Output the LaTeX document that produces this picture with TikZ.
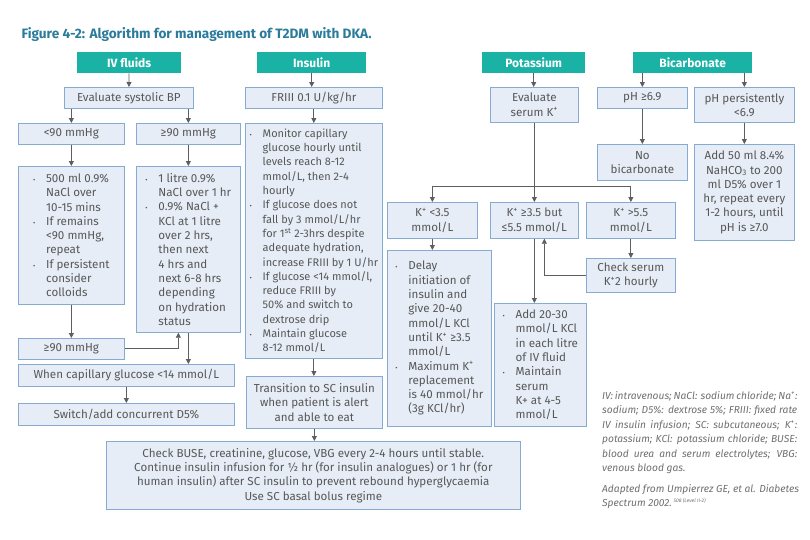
\documentclass[tikz,border=0pt]{standalone}
\usepackage{fontspec}
\setmainfont{Fira Sans}
\usetikzlibrary{arrows.meta}
\definecolor{teal1}{HTML}{1BB2A6}
\definecolor{bxfill}{HTML}{E7EDF6}
\definecolor{bxline}{HTML}{86ABD3}
\definecolor{txt}{HTML}{575757}
\definecolor{arrc}{HTML}{5E5E5E}
\definecolor{ttl}{HTML}{2B7C9C}
\newcommand{\itm}{\makebox[13pt][l]{\scriptsize\textbullet}}
\newcommand{\hng}{\hspace*{13pt}}
\newcommand{\Kp}{K\textsuperscript{+}}
\newcommand{\jl}[1]{\makebox[195pt][s]{#1}}
\begin{document}
\begin{tikzpicture}[x=1pt,y=-1pt,
    hd/.style={fill=teal1, text=white, font=\fontsize{12}{14}\selectfont\bfseries, anchor=north west, inner sep=0pt},
    bx/.style={draw=bxline, fill=bxfill, line width=0.7pt, text=txt, anchor=north west, inner sep=0pt,
        font=\fontsize{11.6}{14.3}\selectfont, align=center},
    bl/.style={bx, align=left},
    arr/.style={draw=arrc, line width=0.8pt, -{Triangle[length=5pt,width=5pt]}}]
    \useasboundingbox[fill=white] (0,0) rectangle (810,539);

    % Title
    \node[anchor=west, text=ttl, font=\fontsize{13.6}{16}\selectfont\bfseries] (title) at (18,34)
        {Figure 4-2: Algorithm for management of T2DM with DKA.};

    % Headers
    \node[hd, minimum width=104, minimum height=21] (ivf) at (77,52) {IV fluids};
    \node[hd, minimum width=109, minimum height=21] (ins) at (257,52) {Insulin};
    \node[hd, minimum width=103, minimum height=21] (pot) at (482,52) {Potassium};
    \node[hd, minimum width=119, minimum height=21] (bic) at (633,52) {Bicarbonate};

    % IV fluids
    \node[bx, minimum width=129, minimum height=21] (evbp) at (64,87) {Evaluate systolic BP};
    \node[bx, minimum width=106, minimum height=21] (lt90) at (18,123) {<90 mmHg};
    \node[bx, minimum width=104, minimum height=21] (ge90) at (136,123) {≥90 mmHg};
    \node[bl, minimum width=106, minimum height=138] (ivA) at (18,166)
        {\itm 500 ml 0.9\%\\ \hng NaCl over\\ \hng 10-15 mins\\
         \itm If remains\\ \hng <90 mmHg,\\ \hng repeat\\
         \itm If persistent\\ \hng consider\\ \hng colloids};
    \node[bl, minimum width=104, minimum height=166] (ivB) at (136,166)
        {\itm 1 litre 0.9\%\\ \hng NaCl over 1 hr\\
         \itm 0.9\% NaCl +\\ \hng KCl at 1 litre\\ \hng over 2 hrs,\\ \hng then next\\
         \hng 4 hrs and\\ \hng next 6-8 hrs\\ \hng depending\\ \hng on hydration\\ \hng status};
    \node[bx, minimum width=106, minimum height=21] (ge90b) at (18,338) {≥90 mmHg};
    \node[bx, minimum width=216, minimum height=22] (cbg) at (18,364) {When capillary glucose <14 mmol/L};
    \node[bx, minimum width=216, minimum height=22] (dfive) at (18,403) {Switch/add concurrent D5\%};

    \draw[arr] (ivf) -- (evbp);
    \draw[arr] (evbp.south -| lt90) -- (lt90);
    \draw[arr] (evbp.south -| ge90) -- (ge90);
    \draw[arr] (lt90) -- (ivA);
    \draw[arr] (ge90) -- (ivB);
    \draw[arr] (ivA) -- (ge90b);
    \draw[arr] (ge90b.east) -| ([xshift=-10pt]ivB.south);
    \draw[arr] (ivB.south) -- (ivB.south |- cbg.north);
    \draw[arr] (cbg) -- (dfive);

    % Insulin
    \node[bx, minimum width=137, minimum height=21] (fr) at (245,87) {FRIII 0.1 U/kg/hr};
    \node[bl, minimum width=137, minimum height=235, font=\fontsize{11}{14.3}\selectfont] (insB) at (245,123)
        {\itm Monitor capillary\\ \hng glucose hourly until\\ \hng levels reach 8-12\\
         \hng mmol/L, then 2-4\\ \hng hourly\\
         \itm If glucose does not\\ \hng fall by 3 mmol/L/hr\\ \hng for 1\textsuperscript{st} 2-3hrs despite\\
         \hng adequate hydration,\\ \hng increase FRIII by 1 U/hr\\
         \itm If glucose <14 mmol/l,\\ \hng reduce FRIII by\\ \hng 50\% and switch to\\ \hng dextrose drip\\
         \itm Maintain glucose\\ \hng 8-12 mmol/L};
    \node[bx, minimum width=136, minimum height=52] (trn) at (246,376)
        {Transition to SC insulin\\ when patient is alert\\ and able to eat};
    \node[bx, minimum width=414, minimum height=68] (final) at (106,441)
        {Check BUSE, creatinine, glucose, VBG every 2-4 hours until stable.\\
         Continue insulin infusion for ½ hr (for insulin analogues) or 1 hr (for\\
         human insulin) after SC insulin to prevent rebound hyperglycaemia\\
         Use SC basal bolus regime};

    \draw[arr] (ins) -- (ins |- fr.north);
    \draw[arr] (fr) -- (fr |- insB.north);
    \draw[arr] (insB) -- (insB |- trn.north);
    \draw[arr] (trn) -- (trn |- final.north);

    % Potassium
    \node[bx, minimum width=88, minimum height=35] (evk) at (490,87) {Evaluate\\ serum \Kp};
    \node[bx, minimum width=90, minimum height=36] (klo) at (387,202) {\Kp{} <3.5\\ mmol/L};
    \node[bx, minimum width=88, minimum height=36] (kmid) at (490,202) {\Kp{} ≥3.5 but\\ ≤5.5 mmol/L};
    \node[bx, minimum width=89, minimum height=36] (khi) at (586,202) {\Kp{} >5.5\\ mmol/L};
    \node[bx, minimum width=89, minimum height=34] (chk) at (586,258) {Check serum\\ \Kp{}2 hourly};
    \node[bl, minimum width=104, minimum height=176] (kdel) at (387,250)
        {\itm Delay\\ \hng initiation of\\ \hng insulin and\\ \hng give 20-40\\
         \hng mmol/L KCl\\ \hng until \Kp{} ≥3.5\\ \hng mmol/L\\
         \itm Maximum \Kp\\ \hng replacement\\ \hng is 40 mmol/hr\\ \hng (3g KCl/hr)};
    \node[bl, minimum width=92, minimum height=123] (kadd) at (494,303)
        {\itm Add 20-30\\ \hng mmol/L KCl\\ \hng in each litre\\ \hng of IV fluid\\
         \itm Maintain\\ \hng serum\\ \hng K+ at 4-5\\ \hng mmol/L};
    \coordinate (kbr) at (534,186);

    \draw[arr] (pot) -- (pot |- evk.north);
    \draw[arr] (evk) -- (evk |- kmid.north);
    \draw[arr] (kbr) -| (klo);
    \draw[arr] (kbr) -| (khi);
    \draw[arr] (khi) -- (chk);
    \draw[arr] (chk.west) -| ([xshift=10pt]kmid.south);
    \draw[arr] (klo) -- (klo |- kdel.north);
    \draw[arr] (kmid.south) -- (kmid.south |- kadd.north);

    % Bicarbonate
    \node[bx, minimum width=90, minimum height=21] (phok) at (597,87) {pH ≥6.9};
    \node[bx, minimum width=100, minimum height=35] (phlo) at (694,87) {pH persistently\\ <6.9};
    \node[bx, minimum width=90, minimum height=36] (nobic) at (597,144) {No\\ bicarbonate};
    \node[bx, minimum width=100, minimum height=96] (addbic) at (694,144)
        {Add 50 ml 8.4\%\\ NaHCO\textsubscript{3} to 200\\ ml D5\% over 1\\
         hr, repeat every\\ 1-2 hours, until\\ pH is ≥7.0};

    \draw[arr] (bic.south -| phok) -- (phok);
    \draw[arr] (bic.south -| phlo) -- (phlo);
    \draw[arr] (phok) -- (nobic);
    \draw[arr] (phlo) -- (addbic);

    % Notes
    \node[anchor=north west, inner sep=0pt, align=left, text=txt!85,
        font=\fontsize{10.2}{14.5}\selectfont\itshape] (note) at (602,391)
        {\jl{IV: intravenous; NaCl: sodium chloride; Na\textsuperscript{+}:}\\
         \jl{sodium; D5\%: dextrose 5\%; FRIII: fixed rate}\\
         \jl{IV insulin infusion; SC: subcutaneous; \Kp:}\\
         \jl{potassium; KCl: potassium chloride; BUSE:}\\
         \jl{blood urea and serum electrolytes; VBG:}\\
         venous blood gas.};
    \node[anchor=north west, inner sep=0pt, align=left, text=txt!85,
        font=\fontsize{10.2}{14}\selectfont\itshape] (src) at (602,484)
        {Adapted from Umpierrez GE, et al. Diabetes\\
         Spectrum 2002.\,\textsuperscript{\tiny 508 (Level II-2)}};
\end{tikzpicture}
\end{document}
